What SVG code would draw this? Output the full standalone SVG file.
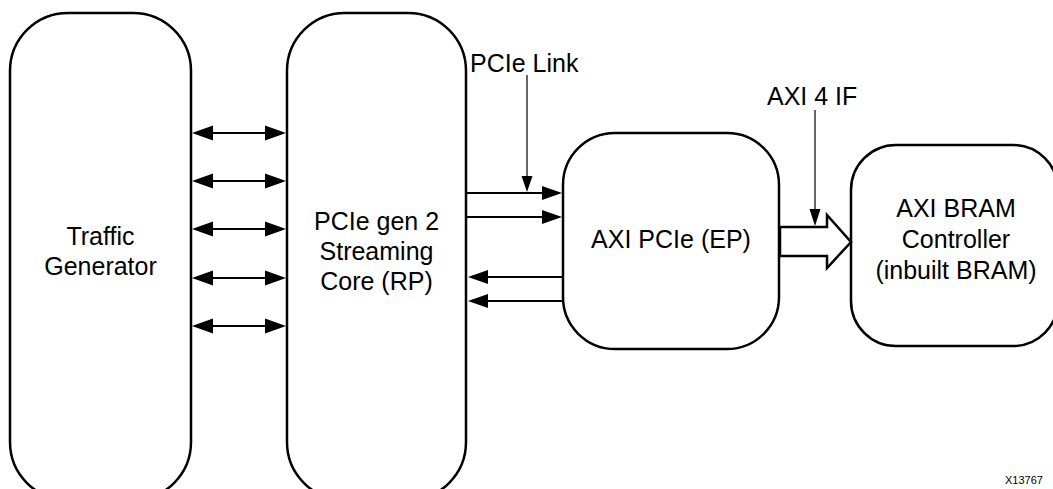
<svg xmlns="http://www.w3.org/2000/svg" width="1053" height="489" viewBox="0 0 1053 489">
<defs>
<style>
.box{fill:#fff;stroke:#000;stroke-width:2.5}
.lbl{font-family:"Liberation Sans",Arial,sans-serif;font-size:25px;fill:#000;text-anchor:middle}
.note{font-family:"Liberation Sans",Arial,sans-serif;font-size:25px;fill:#000}
.ln{stroke:#000;stroke-width:2.2;fill:none}
.thin{stroke:#000;stroke-width:1.2;fill:none}
.head{fill:#000;stroke:none}
</style>
</defs>
<rect width="1053" height="489" fill="#fff"/>
<g id="traffic-generator">
<rect class="box" x="10" y="13" width="181" height="487" rx="58" ry="58"/>
<text class="lbl" x="100.5" y="245">Traffic</text>
<text class="lbl" x="100.5" y="275">Generator</text>
</g>
<g id="pcie-core">
<rect class="box" x="287" y="13" width="179" height="487" rx="58" ry="58"/>
<text class="lbl" x="376.5" y="230">PCIe gen 2</text>
<text class="lbl" x="376.5" y="260">Streaming</text>
<text class="lbl" x="376.5" y="290">Core (RP)</text>
</g>
<g id="axi-pcie">
<rect class="box" x="563" y="133" width="216" height="216" rx="52" ry="52"/>
<text class="lbl" x="671" y="248">AXI PCIe (EP)</text>
</g>
<g id="axi-bram">
<rect class="box" x="851" y="145" width="207" height="201" rx="45" ry="45"/>
<text class="lbl" x="956" y="217">AXI BRAM</text>
<text class="lbl" x="956" y="248">Controller</text>
<text class="lbl" x="956" y="279">(inbuilt BRAM)</text>
</g>
<g id="connectors">
<!-- bidirectional arrows between Traffic Generator and PCIe core -->
<g>
<line class="ln" x1="210" y1="133" x2="268" y2="133"/>
<polygon class="head" points="192,133 213,125.5 213,140.5"/>
<polygon class="head" points="286,133 265,125.5 265,140.5"/>
<line class="ln" x1="210" y1="181" x2="268" y2="181"/>
<polygon class="head" points="192,181 213,173.5 213,188.5"/>
<polygon class="head" points="286,181 265,173.5 265,188.5"/>
<line class="ln" x1="210" y1="229" x2="268" y2="229"/>
<polygon class="head" points="192,229 213,221.5 213,236.5"/>
<polygon class="head" points="286,229 265,221.5 265,236.5"/>
<line class="ln" x1="210" y1="278" x2="268" y2="278"/>
<polygon class="head" points="192,278 213,270.5 213,285.5"/>
<polygon class="head" points="286,278 265,270.5 265,285.5"/>
<line class="ln" x1="210" y1="326" x2="268" y2="326"/>
<polygon class="head" points="192,326 213,318.5 213,333.5"/>
<polygon class="head" points="286,326 265,318.5 265,333.5"/>
</g>
<!-- PCIe link arrows -->
<line class="ln" x1="467" y1="193" x2="545" y2="193"/>
<polygon class="head" points="562,193 542,186 542,200"/>
<line class="ln" x1="467" y1="217" x2="545" y2="217"/>
<polygon class="head" points="562,217 542,210 542,224"/>
<line class="ln" x1="485" y1="277" x2="562" y2="277"/>
<polygon class="head" points="468,277 488,270 488,284"/>
<line class="ln" x1="485" y1="301" x2="562" y2="301"/>
<polygon class="head" points="468,301 488,294 488,308"/>
<!-- PCIe Link pointer -->
<line class="thin" x1="527" y1="75" x2="527" y2="180"/>
<polygon class="head" points="527,192 521.5,176 532.5,176"/>
<!-- AXI block arrow -->
<polygon class="box" points="780,227 827,227 827,215 851,242 827,268 827,256 780,256" stroke-linejoin="miter"/>
<!-- AXI 4 IF pointer -->
<line class="thin" x1="815" y1="110" x2="815" y2="212"/>
<polygon class="head" points="815,226 809.5,209 820.5,209"/>
</g>
<text class="note" x="470" y="72">PCIe Link</text>
<text class="note" x="767" y="105">AXI 4 IF</text>
<text x="1005" y="484" style="font-family:'Liberation Sans',Arial,sans-serif;font-size:11px;fill:#000">X13767</text>
</svg>
